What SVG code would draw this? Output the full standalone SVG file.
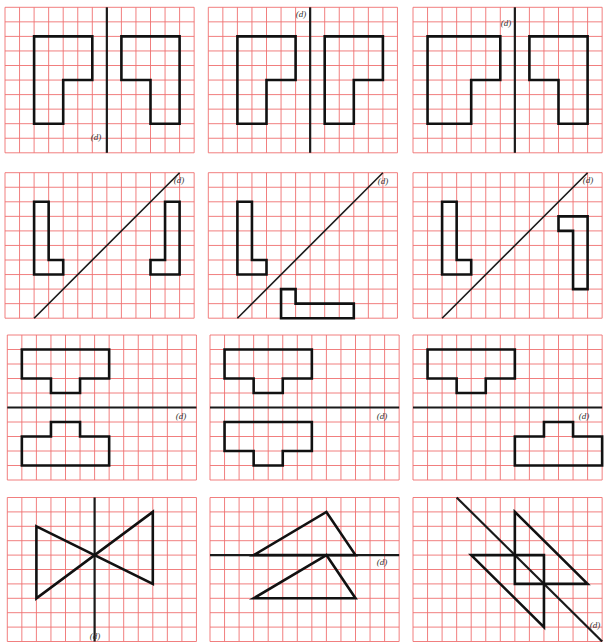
<svg xmlns="http://www.w3.org/2000/svg" xmlns:xlink="http://www.w3.org/1999/xlink" width="605" height="642" viewBox="0 0 605 642">
<style>
.g{fill:none;stroke:#ef7070;stroke-width:0.9;vector-effect:non-scaling-stroke}
.s{fill:none;stroke:#111;stroke-width:2.6;stroke-linejoin:miter;vector-effect:non-scaling-stroke}
.ax{fill:none;stroke:#1a1a1a;stroke-width:2.2;vector-effect:non-scaling-stroke}
.dg{fill:none;stroke:#1a1a1a;stroke-width:1.6;vector-effect:non-scaling-stroke}
.t{font-family:"Liberation Serif",serif;font-style:italic;font-size:9px;fill:#333;text-anchor:middle}
</style>
<defs>
<path id="grid" class="g" d="M0 0V10M1 0V10M2 0V10M3 0V10M4 0V10M5 0V10M6 0V10M7 0V10M8 0V10M9 0V10M10 0V10M11 0V10M12 0V10M13 0V10M0 0H13M0 1H13M0 2H13M0 3H13M0 4H13M0 5H13M0 6H13M0 7H13M0 8H13M0 9H13M0 10H13"/>
</defs>
<rect width="605" height="642" fill="#fff"/>

<g id="p1" transform="translate(5 7.3) scale(14.55)">
<use xlink:href="#grid"/>
<g class="connectors"><path class="ax" d="M7 0V10"/></g>
<path class="s" d="M2 2H6V5H4V8H2Z"/>
<path class="s" d="M8 2H12V8H10V5H8Z"/>
</g>
<g id="p2" transform="translate(208.3 7.3) scale(14.55)">
<use xlink:href="#grid"/>
<g class="connectors"><path class="ax" d="M7 0V10"/></g>
<path class="s" d="M2 2H6V5H4V8H2Z"/>
<path class="s" d="M8 2H12V5H10V8H8Z"/>
</g>
<g id="p3" transform="translate(413 7.3) scale(14.55)">
<use xlink:href="#grid"/>
<g class="connectors"><path class="ax" d="M7 0V10"/></g>
<path class="s" d="M1 2H6V5H4V8H1Z"/>
<path class="s" d="M8 2H12V8H10V5H8Z"/>
</g>

<g id="p4" transform="translate(5 172.7) scale(14.55)">
<use xlink:href="#grid"/>
<g class="connectors"><path class="dg" d="M2 10L12 0"/></g>
<path class="s" d="M2 2H3V6H4V7H2Z"/>
<path class="s" d="M11 2H12V7H10V6H11Z"/>
</g>
<g id="p5" transform="translate(208.3 172.7) scale(14.55)">
<use xlink:href="#grid"/>
<g class="connectors"><path class="dg" d="M2 10L12 0"/></g>
<path class="s" d="M2 2H3V6H4V7H2Z"/>
<path class="s" d="M5 8H6V9H10V10H5Z"/>
</g>
<g id="p6" transform="translate(413 172.7) scale(14.55)">
<use xlink:href="#grid"/>
<g class="connectors"><path class="dg" d="M2 10L12 0"/></g>
<path class="s" d="M2 2H3V6H4V7H2Z"/>
<path class="s" d="M10 3H12V8H11V4H10Z"/>
</g>

<g id="p7" transform="translate(7.3 335) scale(14.55 14.5)">
<use xlink:href="#grid"/>
<g class="connectors"><path class="ax" d="M0 5H13"/></g>
<path class="s" d="M1 1H7V3H5V4H3V3H1Z"/>
<path class="s" d="M3 6H5V7H7V9H1V7H3Z"/>
</g>
<g id="p8" transform="translate(210 335) scale(14.55 14.5)">
<use xlink:href="#grid"/>
<g class="connectors"><path class="ax" d="M0 5H13"/></g>
<path class="s" d="M1 1H7V3H5V4H3V3H1Z"/>
<path class="s" d="M1 6H7V8H5V9H3V8H1Z"/>
</g>
<g id="p9" transform="translate(413 335) scale(14.55 14.5)">
<use xlink:href="#grid"/>
<g class="connectors"><path class="ax" d="M0 5H13"/></g>
<path class="s" d="M1 1H7V3H5V4H3V3H1Z"/>
<path class="s" d="M9 6H11V7H13V9H7V7H9Z"/>
</g>

<g id="p10" transform="translate(7.3 497.5) scale(14.55 14.4)">
<use xlink:href="#grid"/>
<g class="connectors"><path class="ax" d="M6 0V10"/></g>
<path class="s" d="M2 2L10 6V1L2 7Z"/>
</g>
<g id="p11" transform="translate(210 497.5) scale(14.55 14.4)">
<use xlink:href="#grid"/>
<g class="connectors"><path class="ax" d="M0 4H13"/></g>
<path class="s" d="M3 4L8 1L10 4Z"/>
<path class="s" d="M8 4L3 7H10Z"/>
</g>
<g id="p12" transform="translate(413 497.5) scale(14.55 14.4)">
<use xlink:href="#grid"/>
<g class="connectors"><path class="ax" d="M3 0L13 10"/></g>
<path class="s" d="M7 1V6H12Z"/>
<path class="s" d="M4 4H9V9Z"/>
</g>

<g id="labels">
<text class="t" x="96" y="140">(d)</text>
<text class="t" x="301" y="17">(d)</text>
<text class="t" x="506" y="26">(d)</text>
<text class="t" x="179" y="183">(d)</text>
<text class="t" x="383" y="184">(d)</text>
<text class="t" x="588" y="183">(d)</text>
<text class="t" x="181" y="419">(d)</text>
<text class="t" x="382" y="419">(d)</text>
<text class="t" x="584" y="419">(d)</text>
<text class="t" x="95" y="639">(d)</text>
<text class="t" x="382" y="565">(d)</text>
<text class="t" x="595" y="628">(d)</text>
</g>
</svg>
